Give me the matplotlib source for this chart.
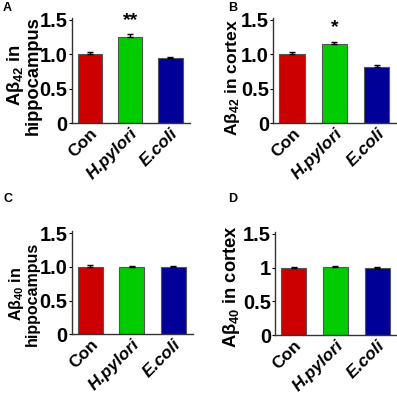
import matplotlib
matplotlib.use('Agg')
import matplotlib.pyplot as plt
import matplotlib.transforms as mtransforms

plt.rcParams['font.family'] = ['Liberation Sans', 'DejaVu Sans']
plt.rcParams['font.weight'] = 'bold'
plt.rcParams['mathtext.fontset'] = 'custom'
plt.rcParams['mathtext.rm'] = 'Liberation Sans:bold'
plt.rcParams['mathtext.it'] = 'Liberation Sans:bold'
plt.rcParams['mathtext.bf'] = 'Liberation Sans:bold'

groups = ['Con', 'H.pylori', 'E.coli']
colors = ['#cc0000', '#00cc00', '#000099']

a_vals = [1.00, 1.25, 0.95]
a_err = [0.04, 0.04, 0.01]
b_vals = [1.00, 1.145, 0.82]
b_err = [0.04, 0.04, 0.03]
c_vals = [1.00, 0.99, 0.99]
c_err = [0.02, 0.015, 0.015]
d_vals = [1.00, 1.01, 1.00]
d_err = [0.015, 0.015, 0.015]

a_label = 'A$\\beta_{42}$ in\nhippocampus'
b_label = 'A$\\beta_{42}$ in cortex'
c_label = 'A$\\beta_{40}$ in\nhippocampus'
d_label = 'A$\\beta_{40}$ in cortex'

yticks_ab = ['0', '0.5', '1.0', '1.5']
yticks_d = ['0', '0.5', '1', '1.5']

fig = plt.figure(figsize=(3.97, 3.97), dpi=100)

# letter, axes rect, values, errors, ylabel, ylabel size, ylabel coords, yticks, star, letter pos
panels = [
    ('A', [0.181, 0.690, 0.297, 0.265], a_vals, a_err, a_label, 13.2, (-0.254, 0.455), yticks_ab, '**', (0.008, 0.994)),
    ('B', [0.688, 0.690, 0.312, 0.265], b_vals, b_err, b_label, 12.6, (-0.25, 0.43), yticks_ab, '*', (0.575, 0.994)),
    ('C', [0.181, 0.158, 0.305, 0.260], c_vals, c_err, c_label, 11.5, (-0.264, 0.39), yticks_ab, '', (0.008, 0.514)),
    ('D', [0.693, 0.156, 0.307, 0.260], d_vals, d_err, d_label, 13.2, (-0.27, 0.47), yticks_d, '', (0.575, 0.514)),
]

shift = mtransforms.ScaledTranslation(5 / 100, 0, fig.dpi_scale_trans)

for letter, pos, vals, err, label, lsize, lxy, yt, star, lpos in panels:
    ax = fig.add_axes(pos)
    x = range(len(groups))
    ax.bar(x, vals, width=0.6, color=colors, edgecolor='#555555', linewidth=0.8,
           yerr=[[0] * len(err), err], error_kw=dict(ecolor='black', elinewidth=1.0, capsize=2, capthick=1.0),
           zorder=2)
    ax.set_xlim(-0.45, 2.48)
    ax.set_ylim(0, 1.53)
    ax.set_yticks([0, 0.5, 1.0, 1.5])
    ax.set_yticklabels(yt, fontsize=14.5, fontweight='bold')
    ax.set_xticks(list(x))
    ax.set_xticklabels(groups, fontsize=12.5, fontweight='bold', rotation=45, ha='right',
                       rotation_mode='anchor')
    for i, t in enumerate(ax.get_xticklabels()):
        t.set_transform(t.get_transform() + shift)
        if i > 0:
            t.set_style('italic')
    ax.tick_params(axis='x', length=0, pad=2)
    ax.tick_params(axis='y', length=2, width=0.8, pad=1)
    for s in ['top', 'right']:
        ax.spines[s].set_visible(False)
    for s in ['left', 'bottom']:
        ax.spines[s].set_color('#333333')
        ax.spines[s].set_linewidth(1.0)
    ax.set_ylabel(label, fontsize=lsize, fontweight='bold', linespacing=0.9)
    ax.yaxis.set_label_coords(lxy[0], lxy[1])
    if star:
        ax.text(1, vals[1] + err[1] + 0.08, star, ha='center', va='bottom', fontsize=14,
                fontweight='bold')
    fig.text(lpos[0], lpos[1], letter, ha='left', va='top', fontsize=9, fontweight='bold')

fig.savefig('out.png', dpi=100)
